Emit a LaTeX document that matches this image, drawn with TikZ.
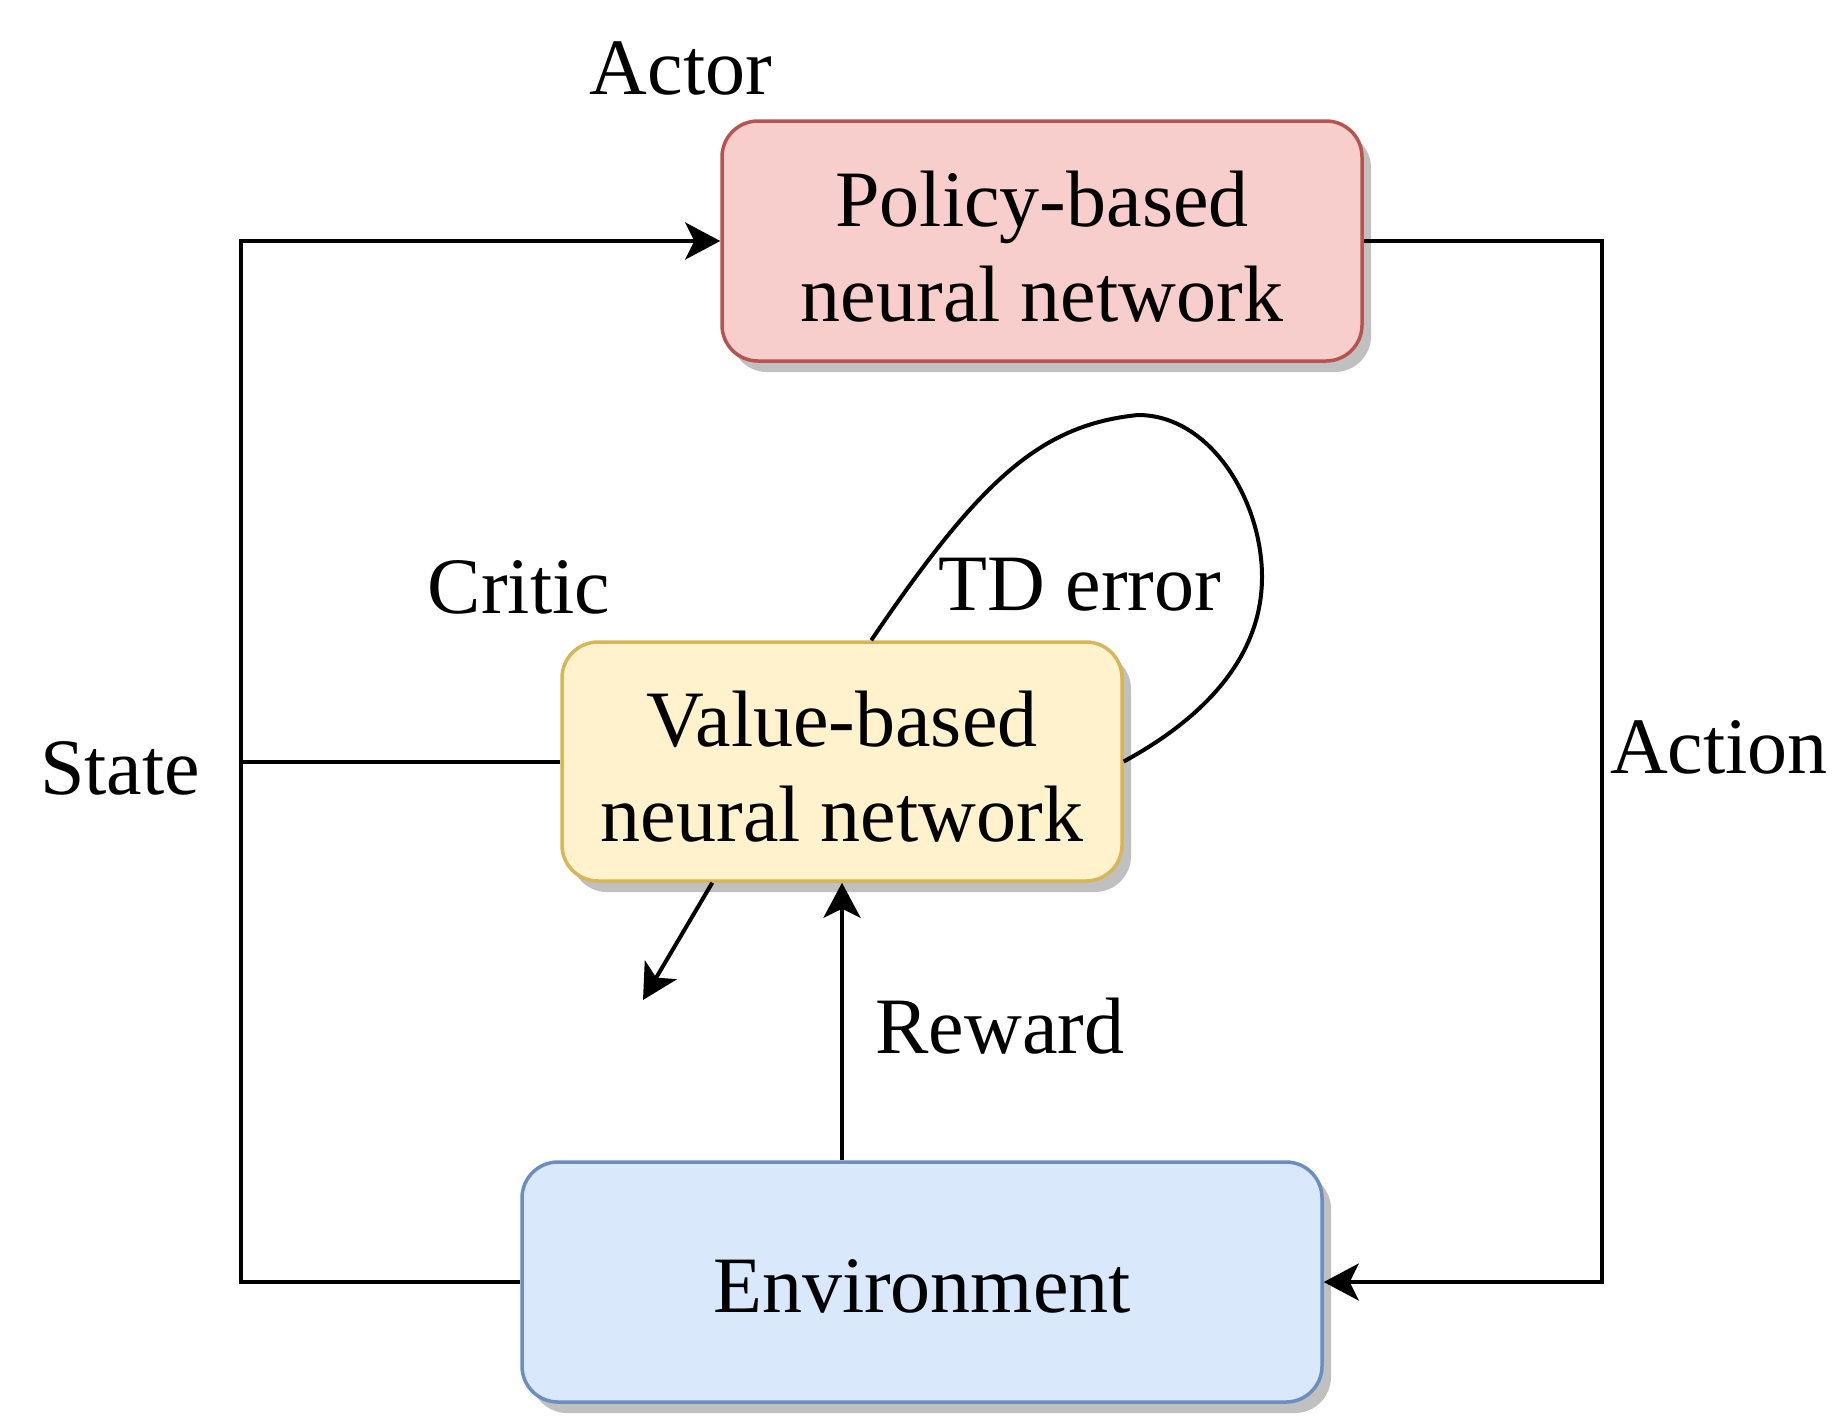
\documentclass[tikz,border=0pt]{standalone}
\usepackage{fontspec}
\setmainfont{Liberation Serif}
\usetikzlibrary{arrows.meta,shadows,calc}
\definecolor{pfill}{HTML}{F8CECC}\definecolor{pdraw}{HTML}{B85450}
\definecolor{vfill}{HTML}{FFF2CC}\definecolor{vdraw}{HTML}{D6B656}
\definecolor{efill}{HTML}{DAE8FC}\definecolor{edraw}{HTML}{6C8EBF}
\definecolor{shadowgray}{HTML}{C0C0C0}
\begin{document}
\begin{tikzpicture}[x=1pt,y=-1pt,
  font=\fontsize{80}{95}\selectfont,
  box/.style={rounded corners=36pt, line width=3.5pt, align=center, inner sep=0pt,
    drop shadow={shadow xshift=9pt, shadow yshift=-11pt, fill=shadowgray, opacity=1}},
  lbl/.style={anchor=base, inner sep=0pt},
  conn/.style={line width=4pt},
  arr/.style={conn, -{Stealth[length=35pt,width=37pt,inset=9pt]}}]
\useasboundingbox (0,0) rectangle (1844,1416);
\node[box, fill=pfill, draw=pdraw, minimum width=640pt, minimum height=240pt, text height=160pt, text depth=0pt] (pol) at (1042,241) {Policy-based\\neural network};
\node[box, fill=vfill, draw=vdraw, minimum width=560pt, minimum height=239pt, text height=159pt, text depth=0pt] (vb) at (842,761.5) {Value-based\\neural network};
\node[box, fill=efill, draw=edraw, minimum width=800pt, minimum height=240pt, text height=60pt, text depth=0pt] (env) at (922,1282) {Environment};
\node[lbl] (actor) at (681,94) {Actor};
\node[lbl] (critic) at (519,613) {Critic};
\node[lbl] (tderr) at (1080,610) {TD error};
\node[lbl] (state) at (120,794) {State};
\node[lbl] (action) at (1719,773) {Action};
\node[lbl] (reward) at (1000,1053) {Reward};
\coordinate (stateX) at (241,241);
\coordinate (actX) at (1602,241);
\coordinate (tdend) at (643,1000);
\draw[arr] (env.west) -| (stateX) -- (pol.west);
\draw[conn] (vb.west) -- (vb.west -| stateX);
\draw[arr] (pol.east) -- (actX) |- (env.east);
\draw[arr] (env.north -| vb.south) -- (vb.south);
\draw[arr] ([xshift=152pt]vb.south west) -- (tdend);
\draw[conn] ([xshift=311pt]vb.north west) .. controls (980,480) and (1040,425) .. (1138,415)
  .. controls (1210,415) and (1262,500) .. (1262,577)
  .. controls (1262,660) and (1200,720) .. (vb.east);
\end{tikzpicture}
\end{document}
